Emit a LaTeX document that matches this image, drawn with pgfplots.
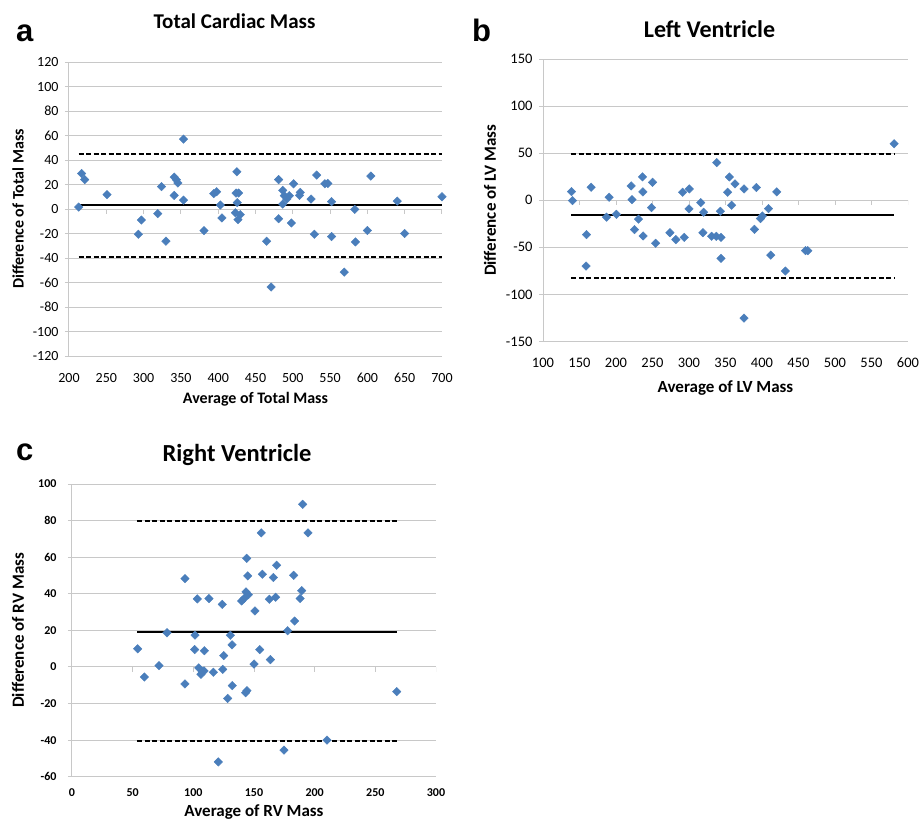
\documentclass[border=0pt]{standalone}
\usepackage{fontspec}
\setmainfont{Carlito}
\newfontfamily\arialfont{Liberation Sans}
\usepackage{pgfplots}
\pgfplotsset{compat=1.18}

\definecolor{excelblue}{RGB}{74,126,187}
\definecolor{gridgray}{RGB}{200,200,200}

\pgfplotsset{
  blandaltman/.style={
    scale only axis,
    anchor=south west,
    axis x line*=bottom,
    axis y line*=left,
    axis line style={gridgray, line width=1pt, -},
    ymajorgrids,
    grid style={gridgray, line width=1pt},
    tick align=outside,
    major tick length=4pt,
    xtick style={draw=none},
    ytick style={draw=gridgray, line width=1pt},
    /pgf/number format/assume math mode=true,
    x tick label style={anchor=center},
    y tick label style={anchor=east},
    xlabel style={font=\bfseries\fontsize{16}{18}\selectfont, anchor=base,
      at={(axis description cs:0.5,0)}},
    ylabel style={font=\bfseries\fontsize{16}{18}\selectfont, anchor=center,
      at={(axis description cs:0,0.5)}},
  },
  pts/.style={only marks, mark=square*, mark size=3pt,
    mark options={rotate=45, fill=excelblue, draw=excelblue}},
  meanline/.style={black, line width=1.8pt, no marks},
  limline/.style={black, line width=2pt, no marks, dash pattern=on 5pt off 2.5pt},
}

\begin{document}
\begin{tikzpicture}
\useasboundingbox (0,0) rectangle (921pt,-823pt);

% ---------------- a: total cardiac mass
\begin{axis}[blandaltman,
  at={(69pt,-356pt)}, width=373pt, height=294pt,
  xmin=200, xmax=700, ymin=-120, ymax=120,
  xtick={200,250,...,700}, ytick={-120,-100,...,120},
  tick label style={font=\fontsize{14}{16}\selectfont},
  x tick label style={yshift=-18pt},
  y tick label style={xshift=-3pt},
  xlabel={Average of Total Mass}, ylabel={Difference of Total Mass},
  xlabel style={yshift=-47pt}, ylabel style={yshift=51pt},
]
\pgfplotsinvokeforeach{250,300,...,700}{
  \draw[gridgray, line width=1pt] (axis cs:#1,0) -- ++(0pt,-5pt);}
\addplot[pts] coordinates {
  (213,1.6) (217,29) (221,24) (251,11.7) (293,-20.6) (297,-9)
  (319,-3.8) (324,18.2) (330,-26.3) (341,26) (341,11.1) (344,23.9)
  (346,21.2) (353.5,57) (353.5,7.3) (381,-17.6) (394,12.5) (398,14.1)
  (403,3.3) (405,-7.3) (425,30.4) (424,13) (427.4,13) (425.6,5.2)
  (423,-3) (429.6,-4.6) (426.5,-8.7) (465,-26.3) (471,-63.7) (481,24)
  (481,-7.9) (486.5,15.2) (488.7,10.9) (492,8.1) (486.5,4) (495.4,10.9)
  (498,-11.4) (501,20.6) (509,11.1) (510,13.6) (524.5,8.1) (529,-20.6)
  (532,27.7) (543,20.6) (547,20.9) (552,6) (552,-22.5) (569,-51.5)
  (583,-0.3) (584,-26.9) (600,-17.6) (604.6,26.9) (640,6.5) (650,-20)
  (700,10) };
\addplot[meanline] coordinates {(213,3.5) (700,3.5)};
\addplot[limline] coordinates {(213,45.3) (700,45.3)};
\addplot[limline] coordinates {(213,-39.3) (700,-39.3)};
\end{axis}

% ---------------- b: left ventricle
\begin{axis}[blandaltman,
  at={(543pt,-341.5pt)}, width=365pt, height=282.5pt,
  xmin=100, xmax=600, ymin=-150, ymax=150,
  xtick={100,150,...,600}, ytick={-150,-100,...,150},
  tick label style={font=\fontsize{14.5}{16}\selectfont},
  x tick label style={yshift=-17pt},
  y tick label style={xshift=-3pt},
  xlabel={Average of LV Mass}, ylabel={Difference of LV Mass},
  xlabel style={yshift=-51pt, font=\bfseries\fontsize{17}{19}\selectfont},
  ylabel style={yshift=53pt, font=\bfseries\fontsize{17}{19}\selectfont},
]
\pgfplotsinvokeforeach{150,200,...,600}{
  \draw[gridgray, line width=1pt] (axis cs:#1,0) -- ++(0pt,-5pt);}
\addplot[pts] coordinates {
  (581,60) (338,40) (139,9.2) (140.3,-0.4) (166,13.8) (190.6,3.2)
  (187,-18) (200.6,-14.9) (220.8,15.2) (222,0.7) (230.8,-20) (236.3,24.8)
  (236.8,8.9) (248.7,-7.8) (250,19.1) (291.2,8.5) (300.4,12) (300,-9.2)
  (316,-2.5) (320,-12.8) (343,-11.7) (353,8.5) (355.3,24.8) (358.5,-5.3)
  (363,17.4) (375.4,12) (392.3,13.5) (389.6,-30.9) (400.5,-16.7)
  (397.8,-19.5) (408.8,-8.9) (420.2,8.9)
  (159.5,-36.5) (159,-69.9) (225.3,-31.2) (237.2,-37.9) (254.2,-45.7)
  (273.8,-34.4) (282,-41.8) (293.5,-39.4) (319,-34.4) (331,-38.3)
  (337.4,-38.3) (343.8,-39.4) (343.8,-61.7) (375.4,-125.2) (412,-58.2)
  (432,-75.2) (459.6,-53.5) (462.8,-53.5) };
\addplot[meanline] coordinates {(139,-15.6) (581,-15.6)};
\addplot[limline] coordinates {(139,49.6) (581,49.6)};
\addplot[limline] coordinates {(139,-82.6) (581,-82.6)};
\end{axis}

% ---------------- c: right ventricle
\begin{axis}[blandaltman,
  at={(72pt,-776.7pt)}, width=364pt, height=292.7pt,
  xmin=0, xmax=300, ymin=-60, ymax=100,
  xtick={0,50,...,300}, ytick={-60,-40,...,100},
  tick label style={font=\bfseries\fontsize{12}{14}\selectfont},
  x tick label style={yshift=-12pt},
  y tick label style={xshift=-8pt},
  xlabel={Average of RV Mass}, ylabel={Difference of RV Mass},
  xlabel style={yshift=-40pt, font=\bfseries\fontsize{17}{19}\selectfont},
  ylabel style={yshift=54pt, font=\bfseries\fontsize{17}{19}\selectfont},
]
\pgfplotsinvokeforeach{50,100,...,300}{
  \draw[gridgray, line width=1pt] (axis cs:#1,0) -- ++(0pt,-5pt);}
\addplot[pts] coordinates {
  (190.1,88.9) (194.5,73.3) (156,73.3) (144,59.4) (168.7,55.6) (93.1,48.3)
  (144.8,49.8) (156.9,50.7) (166,48.9) (182.7,50.1) (143.4,41) (145.3,39.5)
  (189.3,41.7) (103.3,37.2) (112.9,37.4) (123.9,34.2) (139.8,36.1)
  (141.8,37.4) (162.6,37) (167.9,38.1) (188,37.4) (150.8,30.6) (183.5,25.1)
  (177.7,19.8) (78.3,18.7) (101.4,17.4) (130.5,17.3) (131.9,12.1)
  (54.1,9.9) (59.6,-5.5) (71.7,0.7) (93.1,-9.3) (101.1,9.5) (109.1,8.9)
  (104.4,-0.5) (107.4,-2.7) (106.3,-4) (108.8,-2.2) (116.5,-2.9)
  (124.2,-1.3) (125,6.2) (132.1,-10.2) (128.3,-17.2) (143.1,-14.1)
  (144.2,-13) (150,1.6) (154.7,9.5) (163.5,4) (267.6,-13.5) (210.2,-40)
  (174.7,-45.5) (120.6,-51.9) };
\addplot[meanline] coordinates {(53.8,19.2) (268,19.2)};
\addplot[limline] coordinates {(53.8,80) (268,80)};
\addplot[limline] coordinates {(53.8,-40.7) (268,-40.7)};
\end{axis}

% titles and panel letters
\node[anchor=base, font=\bfseries\fontsize{21}{24}\selectfont] at (234.5pt,-28.3pt) {Total Cardiac Mass};
\node[anchor=base, font=\bfseries\fontsize{24}{27}\selectfont] at (709.5pt,-37pt) {Left Ventricle};
\node[anchor=base, font=\bfseries\fontsize{24.5}{27}\selectfont] at (237pt,-461.7pt) {Right Ventricle};
\node[anchor=base west, inner sep=0pt, font=\arialfont\bfseries\fontsize{31}{34}\selectfont] at (16pt,-41.7pt) {a};
\node[anchor=base west, inner sep=0pt, font=\arialfont\bfseries\fontsize{31}{34}\selectfont] at (472pt,-41.7pt) {b};
\node[anchor=base west, inner sep=0pt, font=\arialfont\bfseries\fontsize{31}{34}\selectfont] at (16pt,-460pt) {c};
\end{tikzpicture}
\end{document}
